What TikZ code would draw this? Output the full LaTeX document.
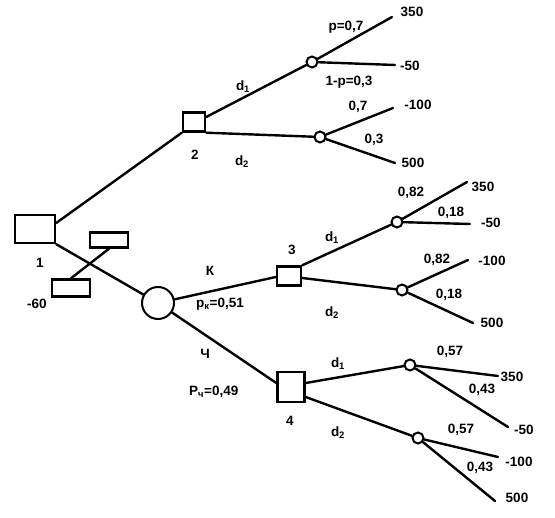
\documentclass[tikz,border=0pt]{standalone}
\usepackage{fontspec}
\setmainfont{Liberation Sans}
\usetikzlibrary{calc}
\begin{document}
\begin{tikzpicture}[x=1pt,y=-1pt,line width=2.4pt,line cap=round,
  dec/.style={draw,rectangle,inner sep=0pt,line width=2.4pt},
  chn/.style={draw,circle,inner sep=0pt,minimum size=11pt,line width=2pt},
  lbl/.style={font=\bfseries\fontsize{13.5}{15}\selectfont,inner sep=0pt}]
\useasboundingbox (0,0) rectangle (555,518);
% decision and chance nodes
\node[dec,minimum width=40pt,minimum height=28pt] (n1) at (35,229) {};
\node[dec,minimum width=38pt,minimum height=15pt] (u1) at (109,240) {};
\node[dec,minimum width=38pt,minimum height=17pt] (u2) at (71,288) {};
\node[chn,minimum size=32pt] (c0) at (158,303) {};
\node[dec,minimum width=22pt,minimum height=19pt] (n2) at (194,122) {};
\node[dec,minimum width=24pt,minimum height=19pt] (n3) at (289,276) {};
\node[dec,minimum width=27pt,minimum height=30pt] (n4) at (291,387) {};
\node[chn] (a1) at (312,62) {};
\node[chn] (a2) at (320,137) {};
\node[chn] (b1) at (397,222) {};
\node[chn] (b2) at (402,290) {};
\node[chn] (e1) at (410,365) {};
\node[chn] (e2) at (418,438) {};
% terminal points
\coordinate (t1) at (392,17);
\coordinate (t2) at (395,65);
\coordinate (t3) at (393,108);
\coordinate (t4) at (395,163);
\coordinate (t5) at (467,182);
\coordinate (t6) at (470,224);
\coordinate (t7) at (468,260);
\coordinate (t8) at (473,323);
\coordinate (t9) at (498,376);
\coordinate (t10) at (508,427);
\coordinate (t11) at (498,457);
\coordinate (t12) at (495,501);
% connectors
\draw ($(n1.east)+(0,-6)$) -- (n2.south west);
\draw (n1.south east) -- (c0);
\draw (u1.south) -- (u2.north);
\draw ($(n2.east)+(0,-5)$) -- (a1);
\draw (n2.south east) -- (a2);
\draw (c0) -- ($(n3.west)+(0,1)$);
\draw (c0) -- ($(n4.west)+(0,-4)$);
\draw (n3.north east) -- (b1);
\draw ($(n3.east)+(0,2)$) -- (b2);
\draw ($(n4.east)+(0,-4)$) -- (e1);
\draw ($(n4.east)+(0,10)$) -- (e2);
\draw (a1) -- (t1); \draw (a1) -- (t2);
\draw (a2) -- (t3); \draw (a2) -- (t4);
\draw (b1) -- (t5); \draw (b1) -- (t6);
\draw (b2) -- (t7); \draw (b2) -- (t8);
\draw (e1) -- (t9); \draw (e1) -- (t10);
\draw (e2) -- (t11); \draw (e2) -- (t12);
% labels
\node[lbl] (l1) at (40,263) {1};
\node[lbl] (lm60) at (37,304) {-60};
\node[lbl] (l2) at (195,155) {2};
\node[lbl] (l3) at (292,250) {3};
\node[lbl] (l4) at (290,421) {4};
\node[lbl] (lk) at (210,271) {К};
\node[lbl,anchor=west] (lpk) at (195,304) {p\textsubscript{к}=0,51};
\node[lbl] (lch) at (205,354) {Ч};
\node[lbl,anchor=west] (lpch) at (188,392) {P\textsubscript{ч}=0,49};
\node[lbl] (d21) at (243,87) {d\textsubscript{1}};
\node[lbl] (d22) at (242,162) {d\textsubscript{2}};
\node[lbl] (d31) at (332,238) {d\textsubscript{1}};
\node[lbl] (d32) at (332,313) {d\textsubscript{2}};
\node[lbl] (d41) at (338,364) {d\textsubscript{1}};
\node[lbl] (d42) at (338,433) {d\textsubscript{2}};
\node[lbl] (pa1) at (346,27) {p=0,7};
\node[lbl] (pa2) at (349,82) {1-p=0,3};
\node[lbl] (pa3) at (358,107) {0,7};
\node[lbl] (pa4) at (374,140) {0,3};
\node[lbl] (pb1) at (411,193) {0,82};
\node[lbl] (pb2) at (451,213) {0,18};
\node[lbl] (pb3) at (437,260) {0,82};
\node[lbl] (pb4) at (449,295) {0,18};
\node[lbl] (pe1) at (450,352) {0,57};
\node[lbl] (pe2) at (482,390) {0,43};
\node[lbl] (pe3) at (461,430) {0,57};
\node[lbl] (pe4) at (480,468) {0,43};
\node[lbl] (v1) at (412,12) {350};
\node[lbl] (v2) at (410,66) {-50};
\node[lbl] (v3) at (418,105) {-100};
\node[lbl] (v4) at (413,163) {500};
\node[lbl] (v5) at (483,187) {350};
\node[lbl] (v6) at (491,223) {-50};
\node[lbl] (v7) at (492,261) {-100};
\node[lbl] (v8) at (492,323) {500};
\node[lbl] (v9) at (512,377) {350};
\node[lbl] (v10) at (524,430) {-50};
\node[lbl] (v11) at (519,462) {-100};
\node[lbl] (v12) at (517,498) {500};
\end{tikzpicture}
\end{document}
